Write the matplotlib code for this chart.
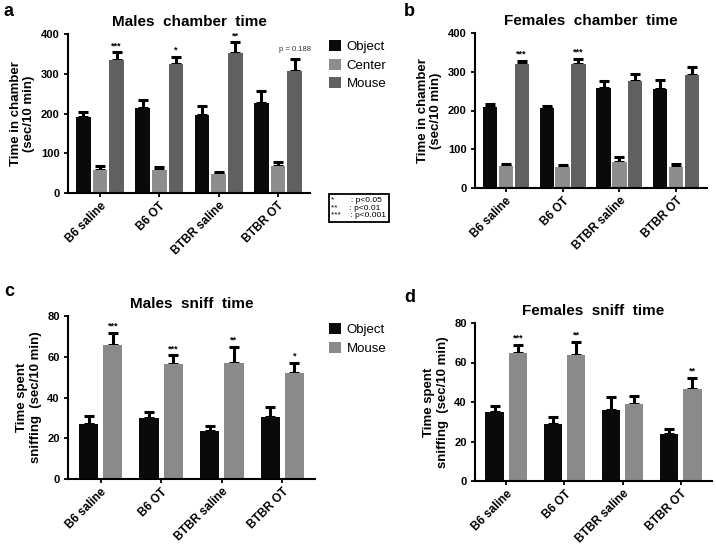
import matplotlib
matplotlib.use("Agg")
import matplotlib.pyplot as plt
import numpy as np

plt.rcParams['font.family'] = ['Liberation Sans', 'DejaVu Sans']

groups = ["B6 saline", "B6 OT", "BTBR saline", "BTBR OT"]

# males chamber time (sec/10 min)
m_obj = [190, 213, 196, 227]
m_obj_err = [13, 20, 24, 29]
m_cen = [59, 59, 49, 67]
m_cen_err = [8, 6, 4, 11]
m_mou = [335, 325, 352, 308]
m_mou_err = [19, 17, 27, 30]
m_sig = ["***", "*", "**", "p = 0.188"]

# females chamber time
f_obj = [208, 206, 258, 256]
f_obj_err = [9, 6, 19, 23]
f_cen = [57, 54, 67, 54]
f_cen_err = [6, 5, 13, 7]
f_mou = [320, 320, 276, 292]
f_mou_err = [8, 13, 19, 19]
f_sig = ["***", "***", "", ""]

# males sniff time
ms_obj = [27.1, 29.9, 23.8, 30.4]
ms_obj_err = [3.6, 2.9, 2.2, 4.7]
ms_mou = [65.8, 56.3, 56.8, 51.9]
ms_mou_err = [6.0, 4.4, 8.2, 5.1]
ms_sig = ["***", "***", "**", "*"]

# females sniff time
fs_obj = [35.0, 28.8, 36.2, 23.6]
fs_obj_err = [3.2, 3.4, 6.4, 2.7]
fs_mou = [65.0, 63.7, 38.9, 46.8]
fs_mou_err = [4.0, 6.7, 4.2, 5.6]
fs_sig = ["***", "**", "", "**"]

C_OBJ = "#0a0a0a"
C_CEN = "#8d8d8d"
C_MOU = "#606060"
C_MOU2 = "#8a8a8a"

W, H = 716, 546
fig = plt.figure(figsize=(W / 100, H / 100), dpi=100)


def px_axes(l, r, t, b):
    return fig.add_axes([l / W, 1 - b / H, (r - l) / W, (b - t) / H])


def panel(ax, series, offsets, width, ymax, ystep, title, ylabel, sig, sig_idx):
    x = np.arange(len(groups))
    for (vals, errs, col, lab), off in zip(series, offsets):
        vals = np.array(vals)
        errs = np.array(errs)
        ax.bar(x + off, vals, width, color=col, label=lab, zorder=2)
        ax.errorbar(x + off, vals, yerr=[np.zeros_like(errs), errs], fmt="none",
                    ecolor="black", elinewidth=2.2, capsize=3.5, capthick=2.2, zorder=1)
    vals, errs = series[sig_idx][0], series[sig_idx][1]
    for i, s in enumerate(sig):
        if not s:
            continue
        top = vals[i] + errs[i]
        if s.startswith("p"):
            ax.annotate(s, (x[i] + offsets[sig_idx], top), xytext=(0, 4),
                        textcoords="offset points", ha="center", va="bottom",
                        fontsize=5.5, color="#333333")
        else:
            ax.annotate(s, (x[i] + offsets[sig_idx], top), xytext=(0, 3),
                        textcoords="offset points", ha="center", va="baseline",
                        fontsize=6.5, fontweight="bold")
    ax.set_ylim(0, ymax)
    ax.set_yticks(np.arange(0, ymax + 1, ystep))
    ax.set_xticks(x)
    ax.set_xticklabels(groups, rotation=45, ha="right", rotation_mode="anchor",
                       fontsize=8.5, fontweight="bold")
    ax.set_xlim(-0.54, 3.54)
    for lab in ax.get_yticklabels():
        lab.set_fontweight("bold")
        lab.set_fontsize(8)
    ax.spines["top"].set_visible(False)
    ax.spines["right"].set_visible(False)
    ax.spines["left"].set_linewidth(1.5)
    ax.spines["bottom"].set_linewidth(1.5)
    ax.tick_params(axis="y", length=3, width=1.3, pad=3)
    ax.tick_params(axis="x", length=3, width=1.3, pad=2)
    ax.set_title(title, fontsize=11, fontweight="bold", pad=6)
    ax.set_ylabel(ylabel, fontsize=9.5, fontweight="bold", labelpad=4)


off3 = [-0.28, 0, 0.28]
off2 = [-0.2, 0.2]

ax_a = px_axes(68, 310, 34, 193)
panel(ax_a, [(m_obj, m_obj_err, C_OBJ, "Object"), (m_cen, m_cen_err, C_CEN, "Center"),
             (m_mou, m_mou_err, C_MOU, "Mouse")], off3, 0.25, 400, 100,
      "Males  chamber  time", "Time in chamber\n(sec/10 min)", m_sig, 2)
ax_a.legend(loc="upper left", bbox_to_anchor=(324 / W, 1 - 35 / H), bbox_transform=fig.transFigure,
            frameon=False, fontsize=9.5, handlelength=0.9, handleheight=0.9,
            handletextpad=0.4, labelspacing=0.4, borderaxespad=0)

ax_b = px_axes(475, 707, 33, 188)
panel(ax_b, [(f_obj, f_obj_err, C_OBJ, "Object"), (f_cen, f_cen_err, C_CEN, "Center"),
             (f_mou, f_mou_err, C_MOU, "Mouse")], off3, 0.25, 400, 100,
      "Females  chamber  time", "Time in chamber\n(sec/10 min)", f_sig, 2)

ax_c = px_axes(68, 315, 316, 479)
panel(ax_c, [(ms_obj, ms_obj_err, C_OBJ, "Object"), (ms_mou, ms_mou_err, C_MOU2, "Mouse")],
      off2, 0.32, 80, 20, "Males  sniff  time", "Time spent\nsniffing  (sec/10 min)", ms_sig, 1)
ax_c.legend(loc="upper left", bbox_to_anchor=(324 / W, 1 - 318 / H), bbox_transform=fig.transFigure,
            frameon=False, fontsize=9.5, handlelength=0.9, handleheight=0.9,
            handletextpad=0.4, labelspacing=0.4, borderaxespad=0)

ax_d = px_axes(475, 712, 323, 481)
panel(ax_d, [(fs_obj, fs_obj_err, C_OBJ, "Object"), (fs_mou, fs_mou_err, C_MOU2, "Mouse")],
      off2, 0.32, 80, 20, "Females  sniff  time", "Time spent\nsniffing  (sec/10 min)", fs_sig, 1)

# significance key
fig.text(331 / W, 1 - 208 / H, "*       : p<0.05\n**     : p<0.01\n***    : p<0.001",
         fontsize=6, va="center", ha="left", linespacing=1.15,
         bbox=dict(boxstyle="square,pad=0.3", fc="white", ec="black", lw=1.3))

# panel letters
for lx, ly, s in [(4, 12, "a"), (404, 12, "b"), (4, 292, "c"), (404, 298, "d")]:
    fig.text(lx / W, 1 - ly / H, s, fontsize=13, fontweight="bold", va="center", ha="left")

fig.savefig("out.png", dpi=100)
